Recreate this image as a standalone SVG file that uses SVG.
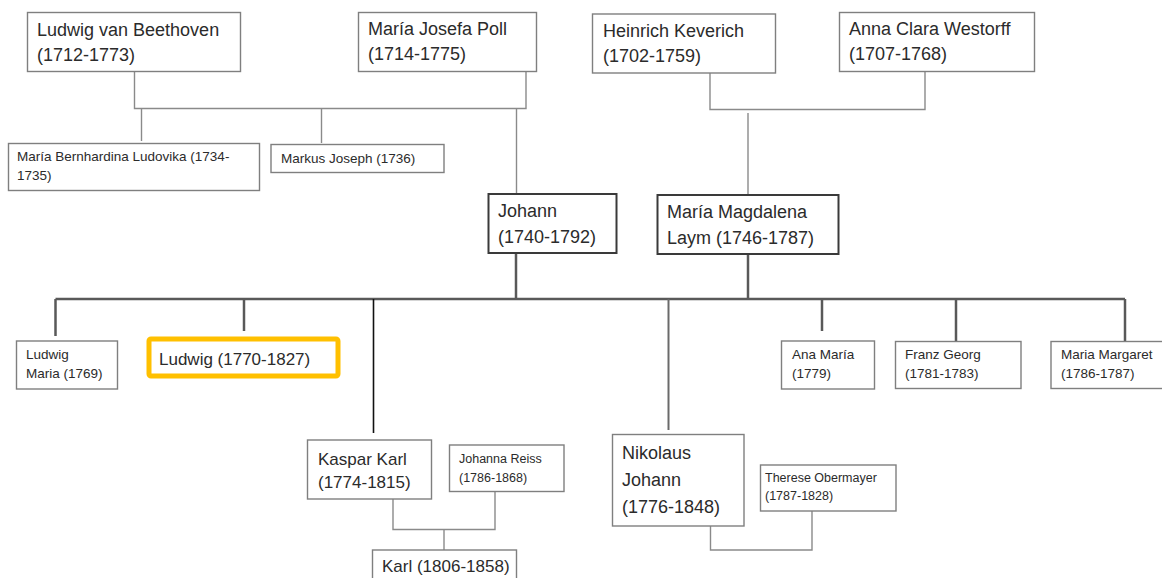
<svg xmlns="http://www.w3.org/2000/svg" width="1162" height="578" viewBox="0 0 1162 578">
<style>
  .box { fill: #ffffff; stroke: #7f7f7f; stroke-width: 1.4; }
  .box-dark { fill: #ffffff; stroke: #3a3a3a; stroke-width: 2; }
  .box-hl { fill: #ffffff; stroke: #ffc000; stroke-width: 5; }
  .t { font-family: "Liberation Sans", Arial, sans-serif; fill: #2b2b2b; }
  .lg { font-size: 18px; }
  .md { font-size: 17px; }
  .sm { font-size: 13.5px; }
  .xs { font-size: 12.5px; }
  .c-thin { fill: none; stroke: #8a8a8a; stroke-width: 1.4; }
  .c-thick { fill: none; stroke: #595959; stroke-width: 2.5; }
  .c-black { fill: none; stroke: #111111; stroke-width: 1.6; }
  .c-mid { fill: none; stroke: #6a6a6a; stroke-width: 2; }
</style>
<rect width="1162" height="578" fill="#ffffff"/>

<g id="connectors">
  <path class="c-thin" d="M134.5,72 V108.5 H526 V72"/>
  <path class="c-thin" d="M141.5,108.5 V141"/>
  <path class="c-thin" d="M321.5,108.5 V143"/>
  <path class="c-thin" d="M516.5,109 V194"/>
  <path class="c-thin" d="M710,73 V109.5 H925 V72"/>
  <path class="c-thin" d="M748,113 V195"/>
  <path class="c-thick" d="M516,253 V299"/>
  <path class="c-thick" d="M748,254 V299"/>
  <path class="c-thick" d="M55.5,299 H1125"/>
  <path class="c-thick" d="M55.5,299 V336"/>
  <path class="c-thick" d="M244,299 V331"/>
  <path class="c-black" d="M373.5,299 V433"/>
  <path class="c-mid" d="M668.5,299 V430"/>
  <path class="c-thick" d="M822,299 V331"/>
  <path class="c-thick" d="M956,299 V342"/>
  <path class="c-thick" d="M1125,299 V342"/>
  <path class="c-thin" d="M393,499 V529.5 H495 V492"/>
  <path class="c-thin" d="M444,529.5 V550"/>
  <path class="c-thin" d="M710.5,526 V550 H812 V511"/>
</g>

<g id="ludwig-van-beethoven">
  <rect class="box" x="27.5" y="12.5" width="213" height="59"/>
  <text class="t lg" x="37" y="36">Ludwig van Beethoven</text>
  <text class="t lg" x="37" y="61">(1712-1773)</text>
</g>
<g id="maria-josefa-poll">
  <rect class="box" x="358.5" y="12.5" width="178" height="59"/>
  <text class="t lg" x="368" y="35">María Josefa Poll</text>
  <text class="t lg" x="368" y="60">(1714-1775)</text>
</g>
<g id="heinrich-keverich">
  <rect class="box" x="592.5" y="14" width="183" height="59"/>
  <text class="t lg" x="603" y="37">Heinrich Keverich</text>
  <text class="t lg" x="603" y="62">(1702-1759)</text>
</g>
<g id="anna-clara-westorff">
  <rect class="box" x="839.5" y="12.5" width="195" height="59"/>
  <text class="t lg" x="849" y="35">Anna Clara Westorff</text>
  <text class="t lg" x="849" y="60">(1707-1768)</text>
</g>
<g id="maria-bernhardina">
  <rect class="box" x="8.5" y="143.5" width="251" height="47"/>
  <text class="t sm" x="17" y="161">María Bernhardina Ludovika (1734-</text>
  <text class="t sm" x="17" y="180">1735)</text>
</g>
<g id="markus-joseph">
  <rect class="box" x="271" y="144.5" width="173" height="28"/>
  <text class="t sm" x="281" y="163">Markus Joseph (1736)</text>
</g>
<g id="johann">
  <rect class="box-dark" x="488.5" y="194" width="128" height="59"/>
  <text class="t lg" x="498" y="217">Johann</text>
  <text class="t lg" x="498" y="243">(1740-1792)</text>
</g>
<g id="maria-magdalena">
  <rect class="box-dark" x="657.5" y="195" width="181" height="59"/>
  <text class="t lg" x="667" y="218">María Magdalena</text>
  <text class="t lg" x="667" y="244">Laym (1746-1787)</text>
</g>
<g id="ludwig-maria">
  <rect class="box" x="16.5" y="341" width="101" height="48"/>
  <text class="t sm" x="26" y="359">Ludwig</text>
  <text class="t sm" x="26" y="378">Maria (1769)</text>
</g>
<g id="ludwig">
  <rect class="box-hl" x="149" y="339" width="189" height="37" rx="2"/>
  <text class="t md" x="159" y="365">Ludwig (1770-1827)</text>
</g>
<g id="ana-maria">
  <rect class="box" x="781.5" y="341" width="93" height="48"/>
  <text class="t sm" x="792" y="359">Ana María</text>
  <text class="t sm" x="792" y="378">(1779)</text>
</g>
<g id="franz-georg">
  <rect class="box" x="895.5" y="341.5" width="125.5" height="47"/>
  <text class="t sm" x="905" y="359">Franz Georg</text>
  <text class="t sm" x="905" y="378">(1781-1783)</text>
</g>
<g id="maria-margaret">
  <rect class="box" x="1051" y="341.5" width="130" height="47"/>
  <text class="t sm" x="1061" y="359">Maria Margaret</text>
  <text class="t sm" x="1061" y="378">(1786-1787)</text>
</g>
<g id="kaspar-karl">
  <rect class="box" x="307.5" y="440" width="124" height="59"/>
  <text class="t md" x="318" y="465">Kaspar Karl</text>
  <text class="t md" x="318" y="488">(1774-1815)</text>
</g>
<g id="johanna-reiss">
  <rect class="box" x="449.5" y="445" width="114.5" height="46.5"/>
  <text class="t xs" x="459" y="463">Johanna Reiss</text>
  <text class="t xs" x="459" y="482">(1786-1868)</text>
</g>
<g id="karl">
  <rect class="box" x="372.5" y="550" width="144" height="40"/>
  <text class="t md" x="382" y="572">Karl (1806-1858)</text>
</g>
<g id="nikolaus-johann">
  <rect class="box" x="612.5" y="434.5" width="131.5" height="91.5"/>
  <text class="t lg" x="622" y="459">Nikolaus</text>
  <text class="t lg" x="622" y="486">Johann</text>
  <text class="t lg" x="622" y="513">(1776-1848)</text>
</g>
<g id="therese-obermayer">
  <rect class="box" x="760.5" y="465" width="135.5" height="46"/>
  <text class="t xs" x="765" y="482">Therese Obermayer</text>
  <text class="t xs" x="765" y="500">(1787-1828)</text>
</g>
</svg>
